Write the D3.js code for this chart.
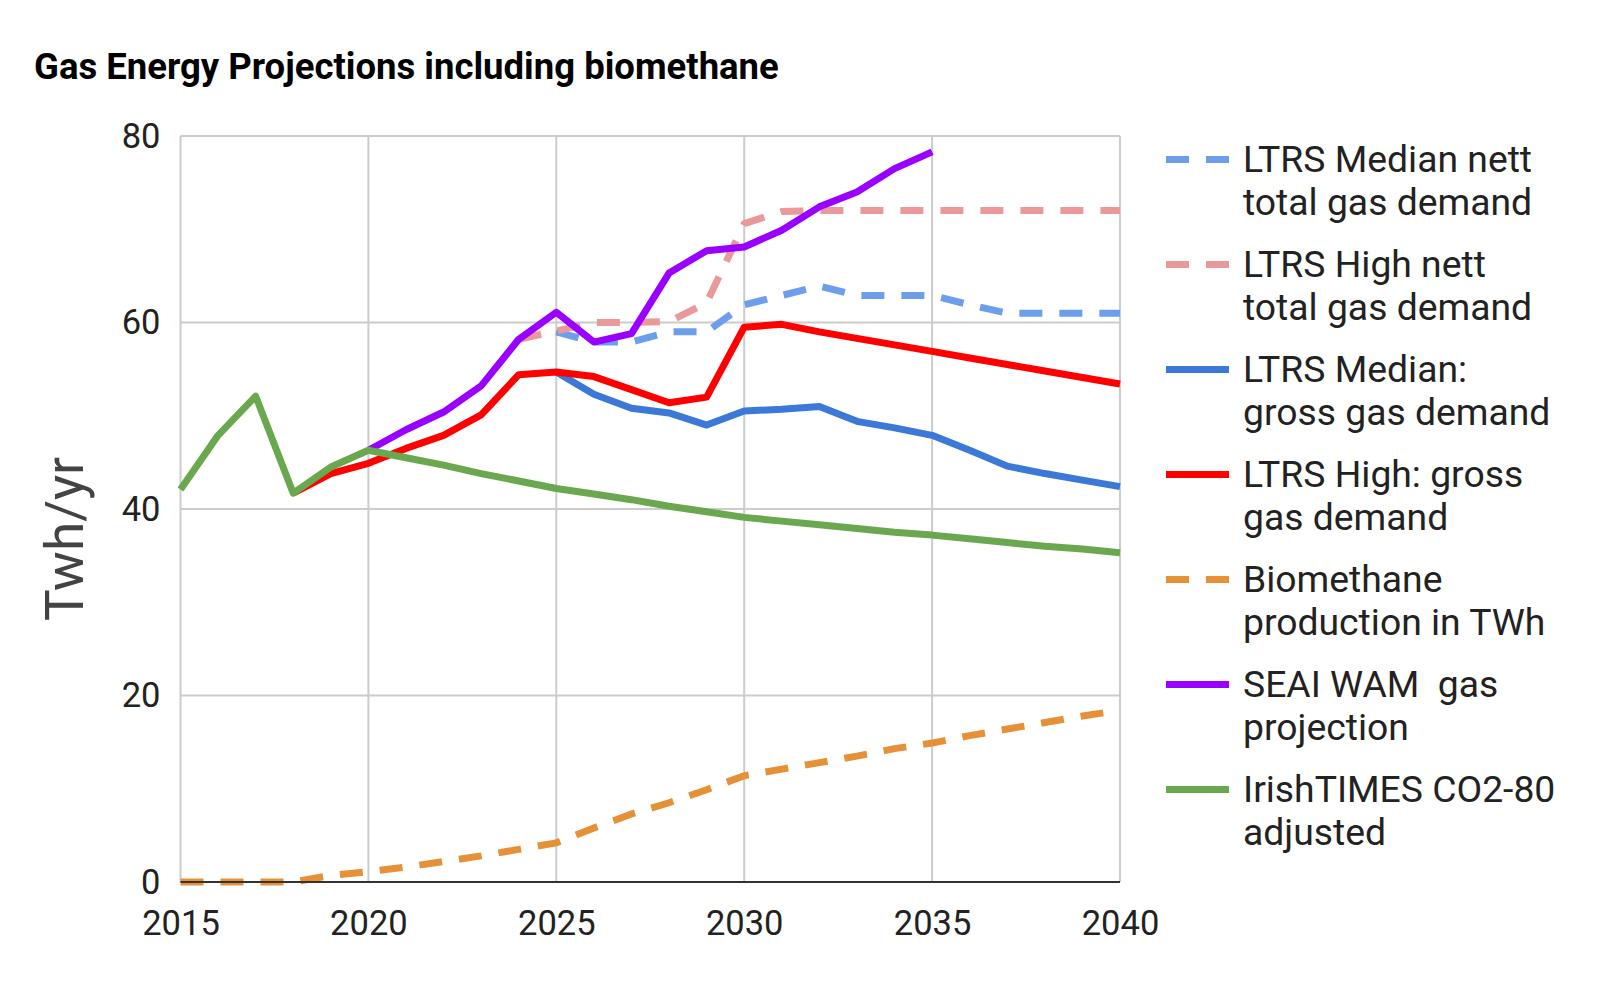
<!DOCTYPE html>
<html>
<head>
<meta charset="utf-8">
<script src="https://cdnjs.cloudflare.com/ajax/libs/d3/7.8.5/d3.min.js"></script>
<style>
  body { margin: 0; background: #fff; }
  text { font-family: Roboto, "Noto Sans", sans-serif; }
</style>
</head>
<body>
<svg id="chart" width="1600" height="985"></svg>
<script>
// Years on the x axis
const years = d3.range(2015, 2041);

// Series values, one per year (null = no value)
const medianNett = [null, null, null, null, null, null, null, null, null, null,
  59.0, 57.9, 57.9, 59.0, 59.0, 61.9, 62.9, 63.9, 62.9, 62.9, 62.9, 61.9, 61.0, 61.0, 61.0, 61.0];
const highNett = [null, null, null, null, null, null, null, null, null, 58.2,
  59.1, 60.0, 60.0, 60.1, 62.1, 70.6, 71.9, 72.0, 72.0, 72.0, 72.0, 72.0, 72.0, 72.0, 72.0, 72.0];
const medianGross = [null, null, null, null, null, null, null, null, null, null,
  54.7, 52.3, 50.8, 50.3, 49.0, 50.5, 50.7, 51.0, 49.4, 48.7, 47.9, 46.3, 44.6, 43.8, 43.1, 42.4];
const highGross = [null, null, null, 41.7, 43.8, 44.9, 46.5, 47.9, 50.1, 54.4,
  54.7, 54.2, 52.8, 51.4, 52.0, 59.5, 59.8, 59.0, 58.3, 57.6, 56.9, 56.2, 55.5, 54.8, 54.1, 53.4];
const biomethane = [0, 0, 0, 0, 0.7, 1.1, 1.6, 2.2, 2.8, 3.5,
  4.2, 5.8, 7.3, 8.5, 9.9, 11.4, 12.1, 12.8, 13.5, 14.3, 14.9, 15.7, 16.4, 17.1, 17.8, 18.4];
const seaiWam = [null, null, null, null, null, 46.3, 48.5, 50.4, 53.2, 58.2,
  61.1, 57.9, 58.8, 65.3, 67.7, 68.1, 69.9, 72.4, 74.0, 76.5, 78.3, null, null, null, null, null];
const irishTimes = [42.1, 47.9, 52.1, 41.7, 44.5, 46.3, 45.5, 44.7, 43.8, 43.0,
  42.2, 41.6, 41.0, 40.3, 39.7, 39.1, 38.7, 38.3, 37.9, 37.5, 37.2, 36.8, 36.4, 36.0, 35.7, 35.3];

const yTicks = [0, 20, 40, 60, 80];
const xTicks = [2015, 2020, 2025, 2030, 2035, 2040];

// legend order = drawing order (later ones on top)
const series = [
  { name: ['LTRS Median nett', 'total gas demand'], values: medianNett, color: '#6d9eeb', dash: true },
  { name: ['LTRS High nett', 'total gas demand'], values: highNett, color: '#ea9999', dash: true },
  { name: ['LTRS Median:', 'gross gas demand'], values: medianGross, color: '#3c78d8', dash: false },
  { name: ['LTRS High: gross', 'gas demand'], values: highGross, color: '#ff0000', dash: false },
  { name: ['Biomethane', 'production in TWh'], values: biomethane, color: '#e69138', dash: true },
  { name: ['SEAI WAM  gas', 'projection'], values: seaiWam, color: '#9900ff', dash: false },
  { name: ['IrishTIMES CO2-80', 'adjusted'], values: irishTimes, color: '#6aa84f', dash: false }
];

const svg = d3.select('#chart');

const x = d3.scaleLinear().domain([2015, 2040]).range([180.5, 1120]);
const y = d3.scaleLinear().domain([0, 80]).range([882, 136]);

// title
svg.append('text')
  .attr('x', 34).attr('y', 79)
  .style('font-size', '36.5px').style('font-weight', 'bold')
  .attr('fill', '#000')
  .text('Gas Energy Projections including biomethane');

// grid
const grid = svg.append('g');
grid.selectAll('.hg').data(yTicks.filter(d => d > 0)).enter().append('line')
  .attr('x1', x(2015)).attr('x2', x(2040))
  .attr('y1', d => y(d)).attr('y2', d => y(d))
  .attr('stroke', '#cccccc').attr('stroke-width', 2);
grid.selectAll('.vg').data(xTicks).enter().append('line')
  .attr('x1', d => x(d)).attr('x2', d => x(d))
  .attr('y1', y(80)).attr('y2', y(0))
  .attr('stroke', '#cccccc').attr('stroke-width', 2);

// axes labels
const yAxis = d3.axisLeft(y).tickValues(yTicks).tickSize(0).tickPadding(20);
svg.append('g').attr('transform', `translate(${x(2015)},0)`).call(yAxis)
  .call(g => g.select('.domain').remove())
  .selectAll('text').style('font-size', '34.5px').attr('fill', '#222');

const xAxis = d3.axisBottom(x).tickValues(xTicks).tickFormat(d3.format('d')).tickSize(0).tickPadding(29);
svg.append('g').attr('transform', `translate(0,${y(0)})`).call(xAxis)
  .call(g => g.select('.domain').remove())
  .selectAll('text').style('font-size', '34.5px').attr('fill', '#222');

svg.append('text')
  .attr('transform', 'translate(83,539) rotate(-90)')
  .attr('text-anchor', 'middle')
  .style('font-size', '53px')
  .attr('fill', '#434343')
  .text('Twh/yr');

// lines
const line = d3.line()
  .defined(d => d.v !== null)
  .x(d => x(d.yr))
  .y(d => y(d.v));

series.forEach(s => {
  const pts = years.map((yr, i) => ({ yr: yr, v: s.values[i] }));
  svg.append('path')
    .datum(pts)
    .attr('d', line)
    .attr('fill', 'none')
    .attr('stroke', s.color)
    .attr('stroke-width', 7)
    .attr('stroke-linejoin', 'round')
    .attr('stroke-dasharray', s.dash ? '23,17' : null);
});

// baseline
svg.append('line')
  .attr('x1', x(2015)).attr('x2', x(2040))
  .attr('y1', y(0)).attr('y2', y(0))
  .attr('stroke', '#333').attr('stroke-width', 2);

// legend
const legend = svg.append('g');
series.forEach((s, i) => {
  const base = 172 + i * 105;
  legend.append('line')
    .attr('x1', 1166).attr('x2', 1229)
    .attr('y1', base - 12.5).attr('y2', base - 12.5)
    .attr('stroke', s.color).attr('stroke-width', 7)
    .attr('stroke-dasharray', s.dash ? '23,17' : null);
  s.name.forEach((t, j) => {
    legend.append('text')
      .attr('x', 1243).attr('y', base + j * 43)
      .style('font-size', '37.3px').attr('fill', '#222')
      .style('white-space', 'pre')
      .text(t);
  });
});
</script>
</body>
</html>
